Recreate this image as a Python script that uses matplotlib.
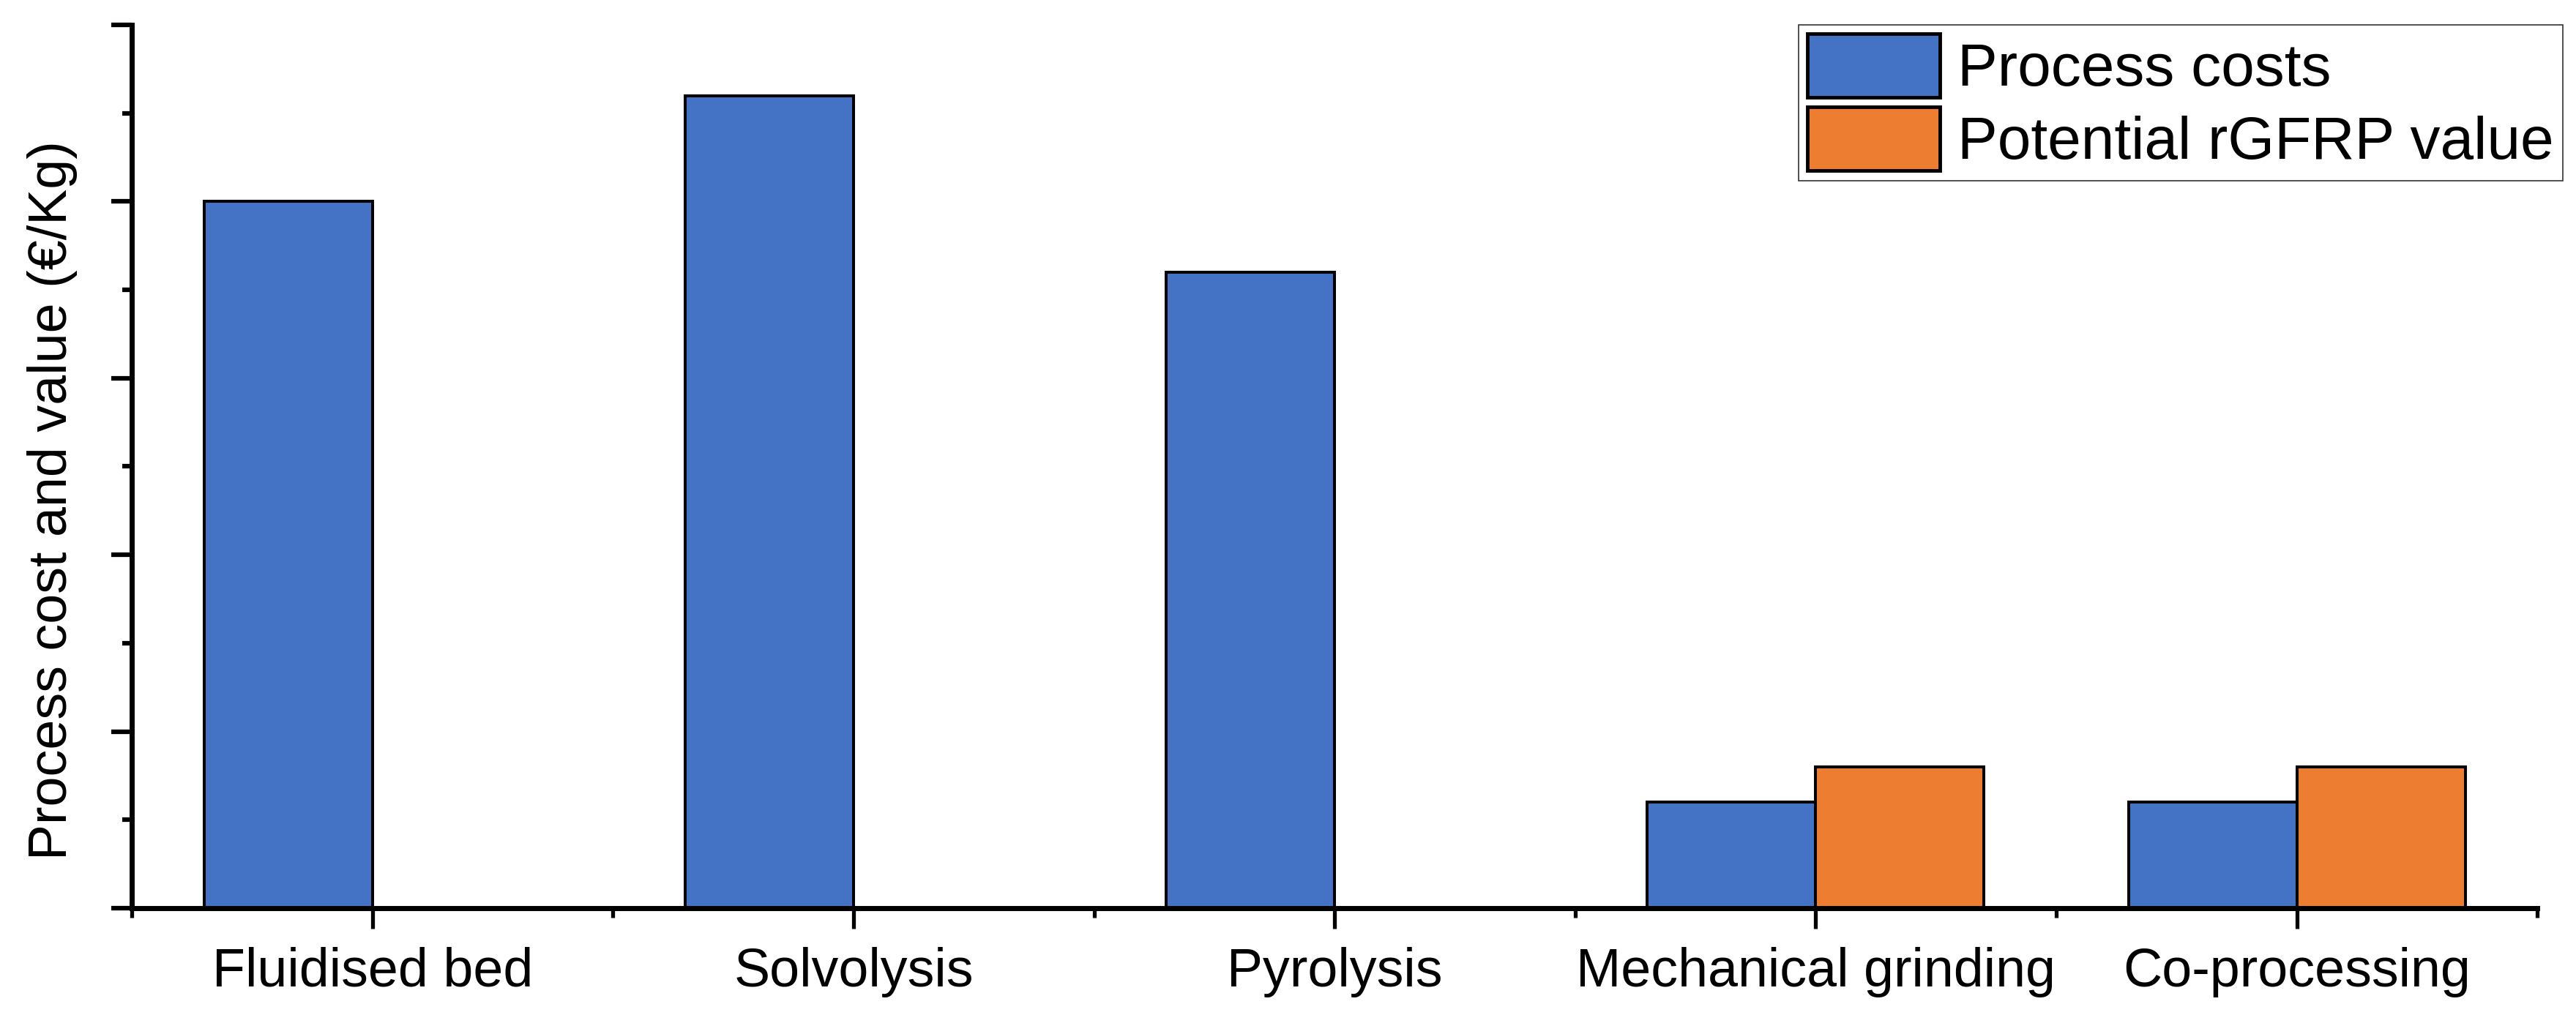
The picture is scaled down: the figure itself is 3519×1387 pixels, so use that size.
import matplotlib.pyplot as plt
import numpy as np
from matplotlib.ticker import MultipleLocator, FixedLocator, NullFormatter

plt.rcParams["font.family"] = ["Liberation Sans", "DejaVu Sans"]

categories = ["Fluidised bed", "Solvolysis", "Pyrolysis", "Mechanical grinding", "Co-processing"]
process_costs = [4.0, 4.6, 3.6, 0.6, 0.6]
rgfrp_value = [0.0, 0.0, 0.0, 0.8, 0.8]
series_names = ["Process costs", "Potential rGFRP value"]
colors = ["#4472C4", "#ED7D31"]

x = np.arange(len(categories))
width = 0.35

fig = plt.figure(figsize=(35.19, 13.87), dpi=100)
ax = fig.add_axes([0.0512, 0.1053, 0.985 - 0.0512, 0.9755 - 0.1053])

ax.bar(x, process_costs, width=-width, align="edge", color=colors[0],
       edgecolor="black", linewidth=2.9, label=series_names[0])
ax.bar(x, rgfrp_value, width=width, align="edge", color=colors[1],
       edgecolor="black", linewidth=2.9, label=series_names[1])

ax.set_xlim(-0.5, len(categories) - 0.5)
ax.set_ylim(0, 5)

ax.spines[["top", "right"]].set_visible(False)
for s in ("left", "bottom"):
    ax.spines[s].set_linewidth(5)

ax.yaxis.set_major_locator(MultipleLocator(1))
ax.yaxis.set_minor_locator(MultipleLocator(0.5))
ax.yaxis.set_major_formatter(NullFormatter())
ax.tick_params(axis="y", which="major", direction="out", length=20, width=4.5)
ax.tick_params(axis="y", which="minor", direction="out", length=9.5, width=4.5)

ax.set_xticks(x)
ax.set_xticklabels(categories, fontsize=53)
ax.xaxis.set_minor_locator(FixedLocator(np.arange(-0.5, len(categories), 1.0)))
ax.tick_params(axis="x", which="major", direction="out", length=20, width=3.8, pad=18)
ax.tick_params(axis="x", which="minor", direction="out", length=9, width=3.8)

fig.text(72 / 3519, 1 - 684 / 1387, "Process cost and value (€/Kg)", rotation=90,
         ha="center", va="center", fontsize=53)

leg = ax.legend(loc="upper right", bbox_to_anchor=(3501 / 3519, 1 - 34 / 1387),
                bbox_transform=fig.transFigure, fontsize=59, frameon=True,
                fancybox=False, borderpad=0.15, handlelength=2.2, handleheight=1.25,
                labelspacing=0.15, handletextpad=0.3, borderaxespad=0)
leg.get_frame().set_edgecolor("black")
leg.get_frame().set_linewidth(1.2)
for patch in leg.get_patches():
    patch.set_linewidth(3.5)

fig.savefig("out.png", dpi=100)
